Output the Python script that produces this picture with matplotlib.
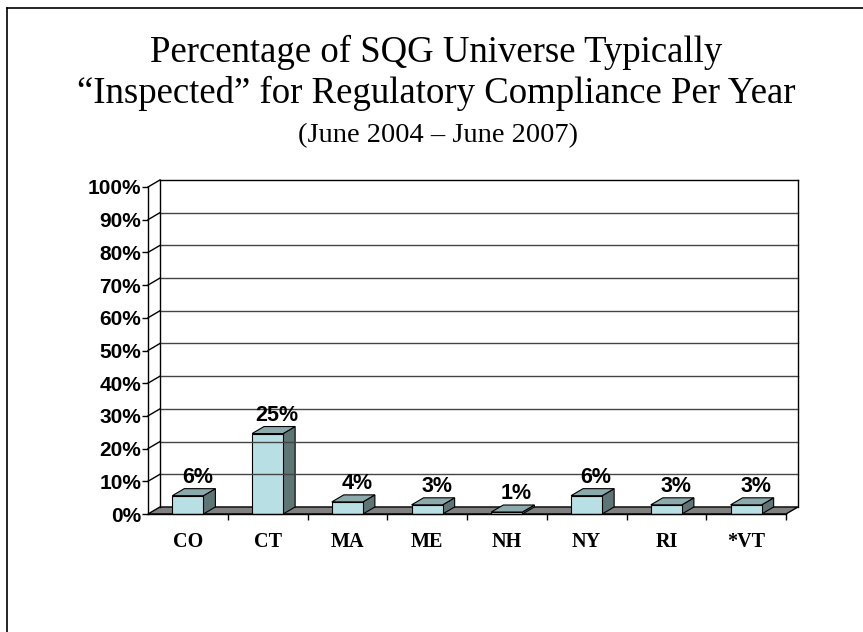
import numpy as np
import matplotlib.pyplot as plt
from matplotlib.patches import Polygon
from matplotlib.lines import Line2D

states = ['CO', 'CT', 'MA', 'ME', 'NH', 'NY', 'RI', '*VT']
pct = [5.6, 24.6, 3.7, 2.8, 0.6, 5.6, 2.8, 2.8]
yticks = list(range(0, 101, 10))

# цвета как в старом excel
c_front = '#b8e0e4'
c_top = '#8ca9ab'
c_side = '#5e7475'
c_floor = '#808080'

fig = plt.figure(figsize=(8.63, 6.32), dpi=100)
ax = fig.add_axes([148/863, 1 - 514/632, 638/863, 327/632])
ax.set_xlim(0, len(states))
ax.set_ylim(0, 100)

# сдвиг "глубины" в единицах данных
dx = 0.15
dy = 2.15
w = 0.195

# задняя стенка и сетка
for v in yticks[1:]:
    col = 'black' if v == 100 else '#444444'
    ax.plot([dx, len(states) + dx], [v + dy, v + dy], color=col, lw=1, clip_on=False)
    ax.plot([0, dx], [v, v + dy], color='black', lw=1, clip_on=False)
ax.plot([dx, dx], [dy, 100 + dy], color='black', lw=1, clip_on=False)
ax.plot([len(states) + dx] * 2, [dy, 100 + dy], color='black', lw=1, clip_on=False)

# пол
floor = Polygon([(0, 0), (len(states), 0), (len(states) + dx, dy), (dx, dy)],
                closed=True, facecolor=c_floor, edgecolor='black', lw=1, clip_on=False)
ax.add_patch(floor)

# столбики
for i, v in enumerate(pct):
    c = i + 0.5
    side = Polygon([(c + w, 0), (c + w + dx, dy), (c + w + dx, v + dy), (c + w, v)],
                   closed=True, facecolor=c_side, edgecolor='black', lw=0.8, clip_on=False)
    top = Polygon([(c - w, v), (c + w, v), (c + w + dx, v + dy), (c - w + dx, v + dy)],
                  closed=True, facecolor=c_top, edgecolor='black', lw=0.8, clip_on=False)
    front = Polygon([(c - w, 0), (c + w, 0), (c + w, v), (c - w, v)],
                    closed=True, facecolor=c_front, edgecolor='black', lw=0.8, clip_on=False)
    ax.add_patch(side)
    ax.add_patch(top)
    ax.add_patch(front)
    ax.text(c + 0.8 * dx, v + dy + 0.3, '%.0f%%' % v, ha='center', va='bottom',
            fontsize=15.5, fontweight='bold', family='Liberation Sans', clip_on=False)

# оси
for s in ['top', 'right']:
    ax.spines[s].set_visible(False)
ax.spines['left'].set_linewidth(1)
ax.spines['bottom'].set_linewidth(1)
ax.set_yticks(yticks)
ax.set_yticklabels(['%d%%' % v for v in yticks], fontsize=15, fontweight='bold',
                   family='Liberation Sans')
ax.tick_params(axis='y', direction='out', length=4, width=1, pad=1)
ax.set_xticks(range(1, len(states) + 1))
ax.set_xticklabels([])
ax.tick_params(axis='x', which='major', direction='out', length=4, width=1)
ax.set_xticks(np.arange(len(states)) + 0.5, minor=True)
ax.set_xticklabels(states, minor=True, fontsize=14.5, fontweight='bold', family='Liberation Serif')
ax.tick_params(axis='x', which='minor', length=0, pad=13)
ax.patch.set_alpha(0)

# заголовок
fig.text(0.505, 1 - 62/632, 'Percentage of SQG Universe Typically', ha='center', va='baseline',
         fontsize=26.5, family='Liberation Serif')
fig.text(0.505, 1 - 103/632, '\u201cInspected\u201d for Regulatory Compliance Per Year', ha='center',
         va='baseline', fontsize=26.5, family='Liberation Serif')
fig.text(0.508, 1 - 142/632, '(June 2004 \u2013 June 2007)', ha='center', va='baseline',
         fontsize=20.5, family='Liberation Serif')

# рамка слайда
fig.add_artist(Line2D([7/863, 7/863], [0, 1 - 8/632], color='black', lw=1.2))
fig.add_artist(Line2D([7/863, 1], [1 - 8/632, 1 - 8/632], color='black', lw=1.2))

fig.savefig('out.png', dpi=100)
